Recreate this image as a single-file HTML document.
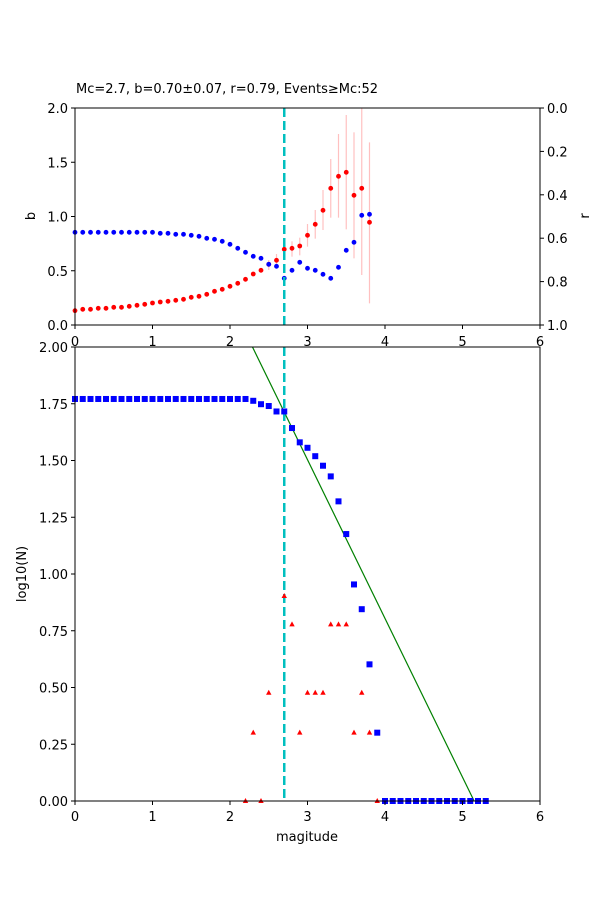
<!DOCTYPE html>
<html><head><meta charset="utf-8"><style>
body{margin:0;background:#fff}
svg text{font-family:"DejaVu Sans","Liberation Sans",sans-serif;fill:#000}
</style></head><body>
<svg id="s" width="600" height="900" xmlns="http://www.w3.org/2000/svg"></svg>
<script>
const s=document.getElementById('s');let h='';
const X=m=>75+m*77.5;
// top axes: y 108..325
h+='<text x="76" y="93" font-size="13">Mc=2.7, b=0.70±0.07, r=0.79, Events≥Mc:52</text>';
const redZ=[632,628,628,625,625,622,622,619,616,613,609,606,604,601,598,592,589,583,574,568,559,550,538,522,511,493,481,448,445,438,406,373,331,265,229,217,286,265,367];
const bluZ=[397,397,397,397,397,397,397,397,397,397,397,400,400,403,403,406,409,415,418,424,433,445,457,469,475,493,499,535,511,487,505,511,523,535,502,451,427,346,343];
const err={25:[480,510],26:[462,500],27:[425,470],28:[424,470],29:[413,466],30:[372,440],31:[330,416],32:[270,390],33:[177,353],34:[102,353],35:[45,388],36:[97,475],37:[25,525],38:[127,610]};
const zy=z=>z/3+100;
for(const k in err){const x=X(k/10);h+=`<line x1="${x}" x2="${x}" y1="${zy(err[k][0])}" y2="${zy(err[k][1])}" stroke="#ffc0c0" stroke-width="1.2"/>`;}
for(let i=0;i<39;i++){h+=`<circle cx="${X(i/10)}" cy="${zy(redZ[i])}" r="2.4" fill="red"/>`;h+=`<circle cx="${X(i/10)}" cy="${zy(bluZ[i])}" r="2.4" fill="blue"/>`;}
h+=`<line x1="${X(2.7)}" x2="${X(2.7)}" y1="108" y2="325" stroke="#00bfbf" stroke-width="2.5" stroke-dasharray="9,4"/>`;
h+='<rect x="75" y="108" width="465" height="217" fill="none" stroke="#000" stroke-width="1"/>';
for(let i=0;i<=6;i++){const x=X(i);h+=`<line x1="${x}" x2="${x}" y1="325" y2="329" stroke="#000"/><text x="${x}" y="346" font-size="13" text-anchor="middle">${i}</text>`;}
for(let i=0;i<=4;i++){const y=325-i*54.25;h+=`<line x1="71" x2="75" y1="${y}" y2="${y}" stroke="#000"/><text x="68" y="${y+5}" font-size="13" text-anchor="end">${(i*0.5).toFixed(1)}</text>`;
const y2=108+i*54.25*5/4*0.8;}
for(let i=0;i<=5;i++){const y=108+i*43.4;h+=`<line x1="540" x2="544" y1="${y}" y2="${y}" stroke="#000"/><text x="547" y="${y+5}" font-size="13">${(i*0.2).toFixed(1)}</text>`;}
h+='<text transform="translate(35,216) rotate(-90)" font-size="13" text-anchor="middle">b</text>';
h+='<text transform="translate(589,216) rotate(-90)" font-size="13" text-anchor="middle">r</text>';
// bottom axes: y 347..801
const Y=v=>801-v*227;
h+=`<line x1="${X(2.29)}" y1="${Y(2)}" x2="${X(5.15)}" y2="${Y(0)}" stroke="green" stroke-width="1.2"/>`;
h+=`<line x1="${X(2.7)}" x2="${X(2.7)}" y1="347" y2="801" stroke="#00bfbf" stroke-width="2.5" stroke-dasharray="9,4"/>`;
const cum={23:1.763,24:1.748,25:1.74,26:1.716,27:1.716,28:1.643,29:1.58,30:1.556,31:1.519,32:1.477,33:1.43,34:1.32,35:1.176,36:0.954,37:0.845,38:0.602,39:0.301};
for(let i=0;i<=53;i++){let v=i<=22?1.771:(i>=40?0:cum[i]);h+=`<rect x="${X(i/10)-3}" y="${Y(v)-3}" width="6" height="6" fill="blue"/>`;}
const tri={22:0,23:0.301,24:0,25:0.477,27:0.903,28:0.778,29:0.301,30:0.477,31:0.477,32:0.477,33:0.778,34:0.778,35:0.778,36:0.301,37:0.477,38:0.301,39:0};
for(const k in tri){const x=X(k/10),y=Y(tri[k]);h+=`<polygon points="${x},${y-3} ${x-2.7},${y+2} ${x+2.7},${y+2}" fill="red"/>`;}
h+='<rect x="75" y="347" width="465" height="454" fill="none" stroke="#000" stroke-width="1"/>';
for(let i=0;i<=6;i++){const x=X(i);h+=`<line x1="${x}" x2="${x}" y1="801" y2="805" stroke="#000"/><text x="${x}" y="821" font-size="13" text-anchor="middle">${i}</text>`;}
for(let i=0;i<=8;i++){const v=i*0.25,y=Y(v);h+=`<line x1="71" x2="75" y1="${y}" y2="${y}" stroke="#000"/><text x="68" y="${y+5}" font-size="13" text-anchor="end">${v.toFixed(2)}</text>`;}
h+='<text x="307" y="841" font-size="13" text-anchor="middle">magitude</text>';
h+='<text transform="translate(26,574) rotate(-90)" font-size="13" text-anchor="middle">log10(N)</text>';
s.innerHTML=h;
</script>
</body></html>
